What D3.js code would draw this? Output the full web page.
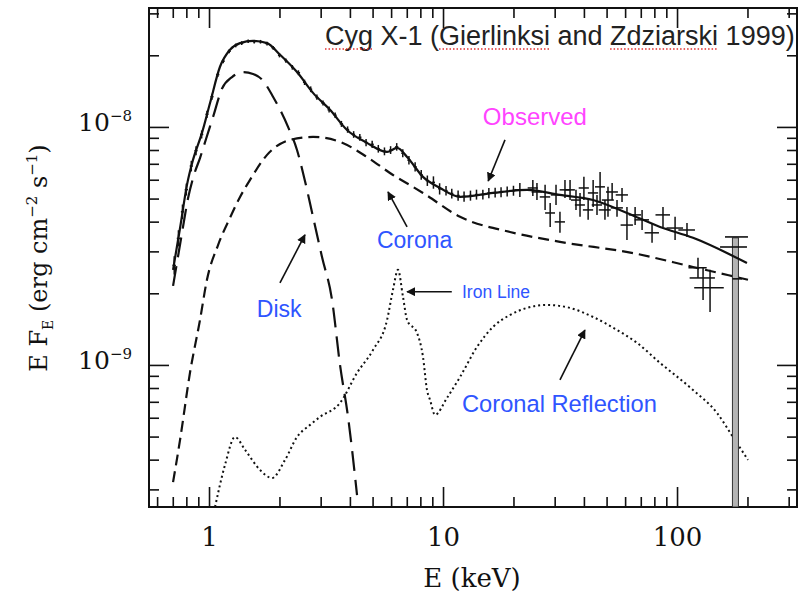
<!DOCTYPE html>
<html>
<head>
<meta charset="utf-8">
<script src="https://cdn.jsdelivr.net/npm/d3@7"></script>
<style>
  body { margin: 0; background: #fff; }
</style>
</head>
<body>
<div id="chart"></div>
<script>
// energies in keV, E*F_E in units of 1e-9 erg cm^-2 s^-1
const totalE = [0.702, 0.752, 0.805, 0.854, 0.933, 1.01, 1.114, 1.229, 1.357, 1.542, 1.770, 2.011, 2.377, 2.783, 3.289, 3.888, 4.732, 5.766, 6.36, 7.02, 8.21, 9.71, 11.82, 16.36, 22.85, 31.6, 43.8, 61.1, 84.6, 117, 199];
const totalF = [2.51, 3.76, 5.71, 7.27, 9.44, 12.6, 17.9, 21.1, 22.5, 23.0, 22.5, 20.1, 17.0, 13.9, 11.8, 9.71, 8.57, 7.85, 8.16, 7.48, 6.17, 5.54, 5.08, 5.28, 5.44, 5.18, 4.93, 4.35, 3.80, 3.42, 2.68];

const diskE = [0.702, 0.730, 0.767, 0.813, 0.863, 0.915, 0.971, 1.04, 1.137, 1.254, 1.397, 1.542, 1.685, 1.877, 2.176, 2.377, 2.522, 2.783, 3.04, 3.354, 3.629, 3.927, 4.291];
const diskF = [2.15, 2.7, 3.6, 5.0, 6.3, 7.4, 8.9, 11.0, 14.5, 16.2, 17.0, 16.7, 15.8, 13.4, 10.0, 8.0, 6.41, 4.19, 2.84, 1.88, 1.0, 0.605, 0.284];

const coronaE = [0.702, 0.752, 0.829, 0.915, 0.980, 1.093, 1.229, 1.357, 1.497, 1.770, 2.218, 2.783, 3.629, 4.732, 6.113, 7.44, 8.21, 11.82, 19.33, 31.6, 64.9, 117, 201];
const coronaF = [0.322, 0.484, 0.926, 1.545, 2.28, 3.19, 4.15, 5.08, 5.99, 7.63, 8.82, 9.08, 8.65, 7.48, 6.28, 5.6, 5.28, 4.19, 3.62, 3.29, 2.95, 2.58, 2.28];

const reflE = [1.061, 1.170, 1.291, 1.425, 1.652, 1.858, 2.113, 2.377, 2.702, 2.981, 3.629, 4.291, 5.022, 5.766, 6.113, 6.42, 6.745, 7.02, 7.74, 8.21, 8.54, 8.80, 9.24, 10.4, 11.82, 13.97, 16.36, 19.33, 22.85, 27.8, 34.9, 43.8, 55.4, 67.5, 84.6, 117, 148.3, 173.4, 201];
const reflF = [0.253, 0.380, 0.498, 0.440, 0.362, 0.335, 0.399, 0.498, 0.560, 0.605, 0.692, 0.926, 1.156, 1.545, 2.07, 2.51, 1.93, 1.545, 1.363, 1.081, 0.785, 0.713, 0.617, 0.727, 0.890, 1.19, 1.445, 1.622, 1.736, 1.787, 1.736, 1.59, 1.403, 1.237, 1.02, 0.785, 0.628, 0.498, 0.399];

// observed spectrum: [E, half bin width, flux, flux low, flux high]
const obsLow = [
  [0.71, 0.012, 2.62, 2.40, 2.86], [0.74, 0.012, 3.40, 3.15, 3.68], [0.77, 0.012, 4.40, 4.10, 4.72],
  [0.80, 0.013, 5.45, 5.15, 5.78], [0.84, 0.013, 6.85, 6.50, 7.20], [0.88, 0.014, 7.95, 7.60, 8.30],
  [0.93, 0.015, 9.30, 8.95, 9.66], [0.98, 0.015, 11.3, 10.9, 11.7], [1.03, 0.016, 13.4, 13.0, 13.8],
  [1.09, 0.017, 16.6, 16.2, 17.0], [1.15, 0.018, 18.9, 18.5, 19.3], [1.22, 0.019, 20.8, 20.4, 21.2],
  [1.30, 0.02, 22.0, 21.6, 22.4], [1.38, 0.02, 22.5, 22.1, 22.9], [1.47, 0.02, 22.9, 22.5, 23.3],
  [1.56, 0.02, 22.8, 22.4, 23.2], [1.66, 0.02, 22.8, 22.4, 23.2], [1.77, 0.03, 22.4, 22.0, 22.8],
  [1.88, 0.03, 21.5, 21.1, 21.9], [2.00, 0.03, 20.0, 19.6, 20.4], [2.13, 0.03, 19.0, 18.6, 19.4],
  [2.27, 0.03, 17.8, 17.4, 18.2], [2.41, 0.04, 16.9, 16.5, 17.3], [2.56, 0.04, 15.4, 15.0, 15.8],
  [2.72, 0.04, 14.4, 14.0, 14.8], [2.89, 0.04, 13.3, 13.0, 13.7], [3.07, 0.05, 12.6, 12.3, 12.9],
  [3.26, 0.05, 11.8, 11.5, 12.2], [3.46, 0.05, 11.2, 10.9, 11.5], [3.68, 0.06, 10.3, 10.0, 10.6],
  [3.91, 0.06, 9.75, 9.45, 10.05], [4.15, 0.06, 9.30, 9.00, 9.60], [4.41, 0.07, 9.05, 8.75, 9.35],
  [4.69, 0.07, 8.60, 8.30, 8.90], [4.98, 0.08, 8.45, 8.15, 8.75], [5.29, 0.08, 8.10, 7.80, 8.40],
  [5.62, 0.09, 7.90, 7.60, 8.20], [5.97, 0.09, 8.00, 7.70, 8.30], [6.34, 0.10, 8.25, 7.95, 8.55],
  [6.73, 0.10, 7.75, 7.45, 8.05], [7.15, 0.11, 7.25, 6.95, 7.55], [7.60, 0.12, 6.80, 6.50, 7.10],
  [8.07, 0.12, 6.30, 6.00, 6.60], [8.57, 0.13, 5.95, 5.65, 6.25], [9.10, 0.14, 5.85, 5.50, 6.20],
  [9.67, 0.15, 5.50, 5.20, 5.80], [10.3, 0.16, 5.40, 5.15, 5.65], [10.9, 0.17, 5.25, 5.00, 5.50],
  [11.6, 0.18, 5.15, 4.90, 5.40], [12.3, 0.19, 5.10, 4.85, 5.35], [13.1, 0.20, 5.15, 4.90, 5.40],
  [13.9, 0.21, 5.20, 4.95, 5.45], [14.8, 0.23, 5.20, 4.95, 5.45], [15.7, 0.24, 5.28, 5.02, 5.54],
  [16.7, 0.26, 5.30, 5.05, 5.55], [17.7, 0.27, 5.32, 5.06, 5.58], [18.8, 0.29, 5.36, 5.10, 5.62],
  [20.0, 0.31, 5.40, 5.14, 5.66]
];
const obsHigh = [
  [21.3, 1.1, 5.44, 5.08, 5.82], [24.2, 1.2, 5.54, 5.13, 5.99], [25.2, 1.3, 5.33, 4.93, 5.82],
  [27.3, 1.4, 5.08, 4.48, 5.71], [28.7, 1.4, 4.35, 3.80, 4.79], [30.4, 1.5, 5.18, 4.70, 5.71],
  [31.6, 1.6, 3.99, 3.59, 4.40], [33.2, 1.7, 5.44, 5.03, 5.99], [34.9, 1.7, 5.44, 4.93, 5.99],
  [37.0, 1.8, 4.93, 4.48, 5.44], [38.5, 1.9, 4.70, 4.19, 5.28], [40.0, 2.0, 5.54, 4.93, 6.17],
  [41.7, 2.1, 4.48, 4.07, 4.93], [43.8, 2.2, 5.28, 4.61, 5.99], [45.5, 2.3, 4.70, 4.27, 5.18],
  [46.9, 2.3, 5.60, 4.79, 6.47], [49.2, 2.9, 4.48, 4.07, 4.93], [50.7, 3.0, 4.93, 4.19, 5.60],
  [52.8, 3.1, 5.33, 4.93, 5.82], [55.4, 3.3, 4.57, 4.19, 4.93], [58.2, 3.5, 5.18, 4.84, 5.54],
  [61.1, 3.7, 3.87, 3.35, 4.61], [66.2, 4.0, 4.27, 3.87, 4.61], [70.9, 5.0, 4.07, 3.69, 4.48],
  [78.2, 5.5, 3.59, 3.26, 3.95], [87.1, 6.2, 4.27, 3.80, 4.61], [98.1, 8.0, 3.76, 3.35, 4.19],
  [110.3, 9.0, 3.69, 3.45, 3.95], [122.9, 11, 2.56, 2.32, 2.82], [129.2, 16, 2.32, 1.875, 2.58],
  [138.4, 20, 2.11, 1.67, 2.51]
];
// last bin: shaded bar down to the axis, with its bin marks [E lo, E hi, flux]
const limBin = [172.5, 183, 3.42];
const limMarks = [[160.3, 201, 3.45], [152.7, 199, 3.13], [172.5, 189.6, 2.30]];

const xMajor = [1, 10, 100];
const xMinor = [0.6, 0.7, 0.8, 0.9, 2, 3, 4, 5, 6, 7, 8, 9, 20, 30, 40, 50, 60, 70, 80, 90, 200, 300];
const yMajor = [1, 10];
const yMajorExp = ["\u22129", "\u22128"];
const yMinor = [0.3, 0.4, 0.5, 0.6, 0.7, 0.8, 0.9, 2, 3, 4, 5, 6, 7, 8, 9, 20, 30];

// annotations: text at [E, flux], arrows [E0, F0, E1, F1]
const labels = [
  { text: "Observed", at: [14.8, 10.2], color: "#ff44ff", size: 24 },
  { text: "Corona", at: [5.22, 3.10], color: "#2f55ff", size: 23 },
  { text: "Disk", at: [1.60, 1.59], color: "#2f55ff", size: 23 },
  { text: "Iron Line", at: [12.05, 1.91], color: "#2f55ff", size: 17.5 },
  { text: "Coronal Reflection", at: [12.05, 0.635], color: "#2f55ff", size: 23.7 }
];
const arrows = [
  [18.4, 8.82, 15.6, 5.93],
  [7.02, 3.80, 5.82, 5.33],
  [2.01, 2.21, 2.57, 3.52],
  [10.9, 2.03, 7.02, 2.03],
  [31.6, 0.865, 40.4, 1.40]
];

const width = 810, height = 595;
const margin = { top: 8, right: 13, bottom: 88, left: 149 };

const svg = d3.select("#chart").append("svg")
  .attr("width", width).attr("height", height)
  .style("font-family", "DejaVu Serif");

const x = d3.scaleLog().domain([0.554, 325.6]).range([margin.left, width - margin.right]);
const y = d3.scaleLog().domain([0.253, 31.6]).range([height - margin.bottom, margin.top]);
const x0 = margin.left, x1 = width - margin.right, y0 = height - margin.bottom, y1 = margin.top;

svg.append("defs").append("clipPath").attr("id", "plot")
  .append("rect").attr("x", x0).attr("y", y1).attr("width", x1 - x0).attr("height", y0 - y1);
svg.select("defs").append("marker")
  .attr("id", "head").attr("viewBox", "0 0 10 10").attr("refX", 9).attr("refY", 5)
  .attr("markerWidth", 9).attr("markerHeight", 9).attr("markerUnits", "userSpaceOnUse")
  .attr("orient", "auto")
  .append("path").attr("d", "M0,0 L10,5 L0,10 z").attr("fill", "#111");

// ticks on all four sides
function ticks(axis, tr, size, values) {
  const g = svg.append("g").attr("transform", tr)
    .call(axis.tickValues(values).tickSize(size).tickFormat(""));
  g.select(".domain").remove();
  g.selectAll(".tick line").attr("stroke", "#111").attr("stroke-width", 1.6);
  return g;
}
ticks(d3.axisBottom(x), `translate(0,${y0})`, -10, xMinor);
ticks(d3.axisTop(x), `translate(0,${y1})`, -10, xMinor);
ticks(d3.axisTop(x), `translate(0,${y1})`, -20, xMajor);
ticks(d3.axisLeft(y), `translate(${x0},0)`, -10, yMinor);
ticks(d3.axisRight(y), `translate(${x1},0)`, -10, yMinor);
ticks(d3.axisRight(y), `translate(${x1},0)`, -20, yMajor);

const xAx = svg.append("g").attr("transform", `translate(0,${y0})`)
  .call(d3.axisBottom(x).tickValues(xMajor).tickSize(-20).tickPadding(21).tickFormat(d3.format("d")));
xAx.select(".domain").remove();
xAx.selectAll(".tick line").attr("stroke", "#111").attr("stroke-width", 1.6);
xAx.selectAll(".tick text").attr("fill", "#111").style("font-size", "26px").style("font-family", "DejaVu Serif");

const yAx = svg.append("g").attr("transform", `translate(${x0},0)`)
  .call(d3.axisLeft(y).tickValues(yMajor).tickSize(-20).tickPadding(17).tickFormat(""));
yAx.select(".domain").remove();
yAx.selectAll(".tick line").attr("stroke", "#111").attr("stroke-width", 1.6);
yAx.selectAll(".tick text").each(function (d, i) {
  const t = d3.select(this).attr("fill", "#111").style("font-family", "DejaVu Serif").attr("dy", "0.4em");
  t.append("tspan").style("font-size", "25px").text("10");
  t.append("tspan").style("font-size", "15px").attr("dy", -10).text(yMajorExp[i]);
});

svg.append("rect").attr("x", x0).attr("y", y1).attr("width", x1 - x0).attr("height", y0 - y1)
  .attr("fill", "none").attr("stroke", "#111").attr("stroke-width", 2);

// axis titles
svg.append("text").attr("x", 472).attr("y", 587).attr("text-anchor", "middle")
  .style("font-size", "26px").attr("fill", "#111").text("E (keV)");

const yt = svg.append("text").attr("transform", "translate(47,258) rotate(-90)")
  .attr("text-anchor", "middle").style("font-size", "24px").attr("fill", "#111");
yt.append("tspan").text("E F");
yt.append("tspan").style("font-size", "14px").attr("dy", 6).text("E");
yt.append("tspan").attr("dy", -6).text(" (erg cm");
yt.append("tspan").style("font-size", "15px").attr("dy", -10).text("\u22122");
yt.append("tspan").attr("dy", 10).text(" s");
yt.append("tspan").style("font-size", "15px").attr("dy", -10).text("\u22121");
yt.append("tspan").attr("dy", 10).text(")");

// curves
const plot = svg.append("g").attr("clip-path", "url(#plot)");
const line = d3.line().x(d => x(d[0])).y(d => y(d[1])).curve(d3.curveMonotoneX);
const zip = (a, b) => a.map((v, i) => [v, b[i]]);

plot.append("path").datum(zip(diskE, diskF)).attr("d", line)
  .attr("fill", "none").attr("stroke", "#111").attr("stroke-width", 2.2).attr("stroke-dasharray", "20,9");
plot.append("path").datum(zip(coronaE, coronaF)).attr("d", line)
  .attr("fill", "none").attr("stroke", "#111").attr("stroke-width", 2.2).attr("stroke-dasharray", "11,6");
plot.append("path").datum(zip(reflE, reflF)).attr("d", line)
  .attr("fill", "none").attr("stroke", "#111").attr("stroke-width", 2).attr("stroke-dasharray", "2,3");

// shaded last bin
plot.append("rect").attr("x", x(limBin[0])).attr("width", x(limBin[1]) - x(limBin[0]))
  .attr("y", y(limBin[2])).attr("height", y0 - y(limBin[2]))
  .attr("fill", "#b4b4b4").attr("stroke", "#333").attr("stroke-width", 1);
plot.selectAll("line.lim").data(limMarks).join("line").attr("class", "lim")
  .attr("x1", d => x(d[0])).attr("x2", d => x(d[1])).attr("y1", d => y(d[2])).attr("y2", d => y(d[2]))
  .attr("stroke", "#111").attr("stroke-width", 1.6);

plot.append("path").datum(zip(totalE, totalF)).attr("d", line)
  .attr("fill", "none").attr("stroke", "#111").attr("stroke-width", 2.2);

// observed points with error bars
const obs = obsLow.concat(obsHigh);
const pts = plot.selectAll("g.obs").data(obs).join("g").attr("class", "obs")
  .attr("stroke", "#111").attr("stroke-width", 1.5);
pts.append("line").attr("x1", d => x(d[0])).attr("x2", d => x(d[0]))
  .attr("y1", d => y(d[3])).attr("y2", d => y(d[4]));
pts.append("line").attr("x1", d => x(d[0] - d[1])).attr("x2", d => x(d[0] + d[1]))
  .attr("y1", d => y(d[2])).attr("y2", d => y(d[2]));

// annotations
svg.selectAll("line.arrow").data(arrows).join("line").attr("class", "arrow")
  .attr("x1", d => x(d[0])).attr("y1", d => y(d[1])).attr("x2", d => x(d[2])).attr("y2", d => y(d[3]))
  .attr("stroke", "#111").attr("stroke-width", 1.6).attr("marker-end", "url(#head)");

svg.selectAll("text.note").data(labels).join("text").attr("class", "note")
  .attr("x", d => x(d.at[0])).attr("y", d => y(d.at[1]))
  .style("font-family", "Liberation Sans, Arial, sans-serif")
  .style("font-size", d => d.size + "px").attr("fill", d => d.color).text(d => d.text);

// title with the spell-check underlines seen in the source image
const title = svg.append("text").attr("x", 325).attr("y", 45)
  .style("font-family", "Liberation Sans, Arial, sans-serif").style("font-size", "27px")
  .attr("fill", "#222").text("Cyg X-1 (Gierlinksi and Zdziarski 1999)");
const tn = title.node();
[[0, 2], [9, 18], [24, 32]].forEach(([a, b]) => {
  const sx = tn.getStartPositionOfChar(a).x, ex = tn.getEndPositionOfChar(b).x;
  svg.append("line").attr("x1", sx).attr("x2", ex).attr("y1", 49).attr("y2", 49)
    .attr("stroke", "#e23030").attr("stroke-width", 1.4).attr("stroke-dasharray", "1.5,2");
});
</script>
</body>
</html>
